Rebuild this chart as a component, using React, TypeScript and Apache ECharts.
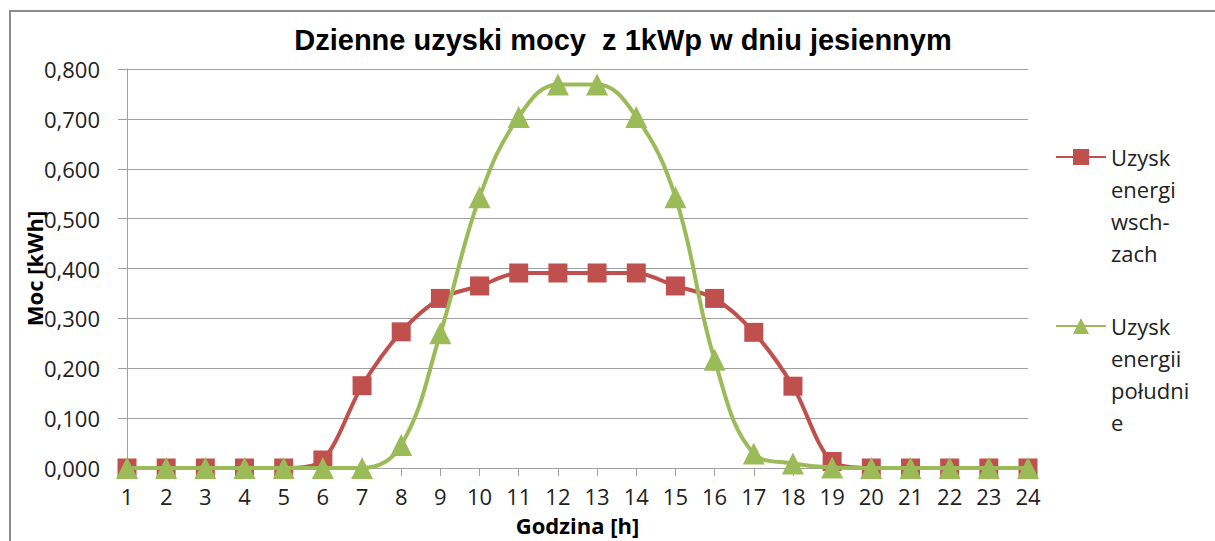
import React, { useEffect, useRef } from "react";
import * as echarts from "echarts";

const hours = ["1","2","3","4","5","6","7","8","9","10","11","12","13","14","15","16","17","18","19","20","21","22","23","24"];
const eastWest = [0,0,0,0,0,0.016,0.165,0.273,0.340,0.365,0.391,0.391,0.391,0.391,0.365,0.340,0.272,0.164,0.013,0,0,0,0,0];
const south = [0,0,0,0,0,0,0,0.046,0.270,0.543,0.704,0.769,0.769,0.704,0.543,0.217,0.029,0.009,0.001,0,0,0,0,0];

const nameEW = "Uzysk\nenergi\nwsch-\nzach";
const nameS = "Uzysk\nenergii\npołudni\ne";

export default function App() {
  const ref = useRef<HTMLDivElement>(null);
  useEffect(() => {
    if (!ref.current) return;
    const chart = echarts.init(ref.current, null, { renderer: "svg" });
    const font = "'Open Sans', 'Noto Sans', sans-serif";
    const legendText = {
      fontFamily: font,
      fontSize: 22,
      color: "#222",
      lineHeight: 32,
    };
    chart.setOption({
      animation: false,
      backgroundColor: "#fff",
      title: {
        text: "Dzienne uzyski mocy  z 1kWp w dniu jesiennym",
        left: 618,
        textAlign: "center",
        top: 20,
        textStyle: {
          fontFamily: "'Liberation Sans', Arial, sans-serif",
          fontWeight: "bold",
          fontSize: 29,
          color: "#000",
        },
      },
      graphic: [
        {
          type: "rect",
          shape: { x: 10, y: 11, width: 1220, height: 540 },
          style: { fill: "none", stroke: "#8c8c8c", lineWidth: 2 },
          silent: true,
        },
      ],
      legend: [
        {
          data: [nameEW],
          orient: "vertical",
          left: 1055,
          top: 45,
          padding: 0,
          itemWidth: 50,
          itemHeight: 20,
          formatter: (n: string) => "\n\n\n" + n,
          textStyle: legendText,
        },
        {
          data: [nameS],
          orient: "vertical",
          left: 1055,
          top: 214,
          padding: 0,
          itemWidth: 50,
          itemHeight: 20,
          formatter: (n: string) => "\n\n\n" + n,
          textStyle: legendText,
        },
      ],
      grid: { left: 127, right: 187, top: 69, bottom: 68, containLabel: false },
      xAxis: {
        type: "category",
        data: hours,
        boundaryGap: false,
        name: "Godzina [h]",
        nameLocation: "middle",
        nameGap: 46,
        nameMoveOverlap: false,
        nameTextStyle: { fontFamily: font, fontWeight: "bold", fontSize: 22, color: "#000" },
        axisLine: { lineStyle: { color: "#a0a0a0", width: 1 } },
        axisTick: { alignWithLabel: true, length: 8, lineStyle: { color: "#a0a0a0" } },
        axisLabel: { fontFamily: font, fontSize: 22, color: "#222", margin: 17, interval: 0 },
      },
      yAxis: {
        type: "value",
        min: 0,
        max: 0.8,
        interval: 0.1,
        name: "Moc [kWh]",
        nameLocation: "middle",
        nameGap: 82,
        nameMoveOverlap: false,
        nameTextStyle: { fontFamily: font, fontWeight: "bold", fontSize: 22, color: "#000" },
        axisLine: { show: true, lineStyle: { color: "#a0a0a0", width: 1 } },
        axisTick: { show: true, length: 9, lineStyle: { color: "#a0a0a0" } },
        splitLine: { lineStyle: { color: "#a0a0a0", width: 1 } },
        axisLabel: {
          fontFamily: font,
          fontSize: 22,
          color: "#222",
          margin: 27,
          formatter: (v: number) => v.toFixed(3).replace(".", ","),
        },
      },
      series: [
        {
          name: nameEW,
          type: "line",
          data: eastWest,
          smooth: 0.3,
          symbol: "rect",
          symbolSize: 19,
          lineStyle: { color: "#C0504D", width: 4 },
          itemStyle: { color: "#C0504D" },
          z: 2,
        },
        {
          name: nameS,
          type: "line",
          data: south,
          smooth: 0.4,
          symbol: "triangle",
          symbolSize: 22,
          lineStyle: { color: "#9BBB59", width: 4 },
          itemStyle: { color: "#9BBB59" },
          z: 3,
        },
      ],
    });
    return () => chart.dispose();
  }, []);
  return (
    <div
      ref={ref}
      style={{ position: "fixed", left: 0, top: 0, width: 1215, height: 541 }}
    />
  );
}
